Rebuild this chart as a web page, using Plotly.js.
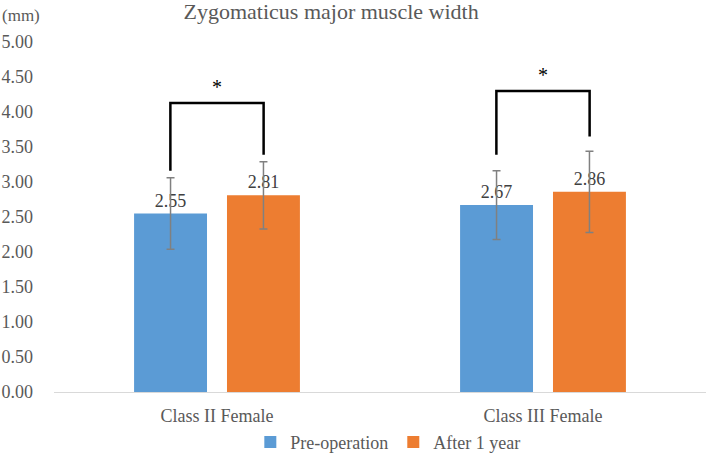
<!DOCTYPE html>
<html>
<head>
<meta charset="utf-8">
<script src="https://cdn.plot.ly/plotly-3.0.1.min.js"></script>
<style>html,body{margin:0;padding:0;background:#fff;}#chart{width:709px;height:454px;}</style>
</head>
<body>
<div id="chart"></div>
<script>
const categories = ["Class II Female", "Class III Female"];
const seriesNames = ["Pre-operation", "After 1 year"];
const preOp = [2.55, 2.67];
const after1y = [2.81, 2.86];
const preOpErr = [0.51, 0.49];
const after1yErr = [0.48, 0.58];
const yTicks = [0, 0.5, 1, 1.5, 2, 2.5, 3, 3.5, 4, 4.5, 5];
const significance = ["*", "*"];

const FONT = "'Liberation Serif', 'Times New Roman', serif";
const GRAY = "#595959";

function barTrace(name, vals, errs, color) {
  return {
    type: "bar",
    name: name,
    x: categories,
    y: vals,
    marker: {color: color},
    error_y: {type: "data", array: errs, visible: true, color: "#808080", thickness: 1.5, width: 4},
    text: vals.map(v => v.toFixed(2)),
    textposition: "outside",
    textfont: {family: FONT, size: 18, color: "#404040"},
    cliponaxis: false,
    hoverinfo: "skip"
  };
}

const data = [
  barTrace(seriesNames[0], preOp, preOpErr, "#5b9bd5"),
  barTrace(seriesNames[1], after1y, after1yErr, "#ed7d31")
];

// significance brackets
const off = 0.143;
const bracketLevels = [
  {left: 3.16, top: 4.13, right: 3.39},
  {left: 3.39, top: 4.30, right: 3.65}
];
const shapes = [];
const annotations = [];
bracketLevels.forEach((b, i) => {
  shapes.push({
    type: "path", xref: "x", yref: "y",
    path: `M ${i - off} ${b.left} L ${i - off} ${b.top} L ${i + off} ${b.top} L ${i + off} ${b.right}`,
    line: {color: "#000000", width: 2.5}
  });
  annotations.push({
    xref: "x", yref: "y", x: i, y: b.top, yshift: 16,
    text: significance[i], showarrow: false,
    font: {family: FONT, size: 20, color: "#000000"}
  });
});
annotations.push({
  xref: "paper", yref: "paper", x: -0.083, y: 1.077, xanchor: "left", yanchor: "middle",
  text: "(mm)", showarrow: false, font: {family: FONT, size: 17, color: GRAY}
});

const layout = {
  width: 709, height: 454,
  margin: {l: 54, r: 3, t: 42, b: 62},
  paper_bgcolor: "#ffffff", plot_bgcolor: "#ffffff",
  font: {family: FONT, color: GRAY},
  title: {text: "Zygomaticus major muscle width", font: {family: FONT, size: 22, color: GRAY},
          xref: "container", x: 0.467, xanchor: "center", yref: "container", y: 0.976, yanchor: "middle"},
  barmode: "group",
  bargap: 0.43,
  bargroupgap: 0.215,
  xaxis: {
    type: "category", showline: true, linecolor: "#d9d9d9", linewidth: 1,
    showgrid: false, zeroline: false, ticks: "", automargin: false,
    tickfont: {family: FONT, size: 18, color: GRAY}, ticklabelstandoff: 7
  },
  yaxis: {
    range: [0, 5], tickvals: yTicks, ticktext: yTicks.map(v => v.toFixed(2)),
    showgrid: false, zeroline: false, showline: false, ticks: "",
    tickfont: {family: FONT, size: 18, color: GRAY}, ticklabelstandoff: 20,
    automargin: false
  },
  showlegend: true,
  legend: {orientation: "h", xref: "paper", x: 0.512, xanchor: "center",
           yref: "container", y: 0.026, yanchor: "middle",
           bgcolor: "rgba(0,0,0,0)",
           font: {family: FONT, size: 18, color: GRAY}, traceorder: "normal"},
  shapes: shapes,
  annotations: annotations
};

Plotly.newPlot("chart", data, layout, {displayModeBar: false, staticPlot: true});
</script>
</body>
</html>
